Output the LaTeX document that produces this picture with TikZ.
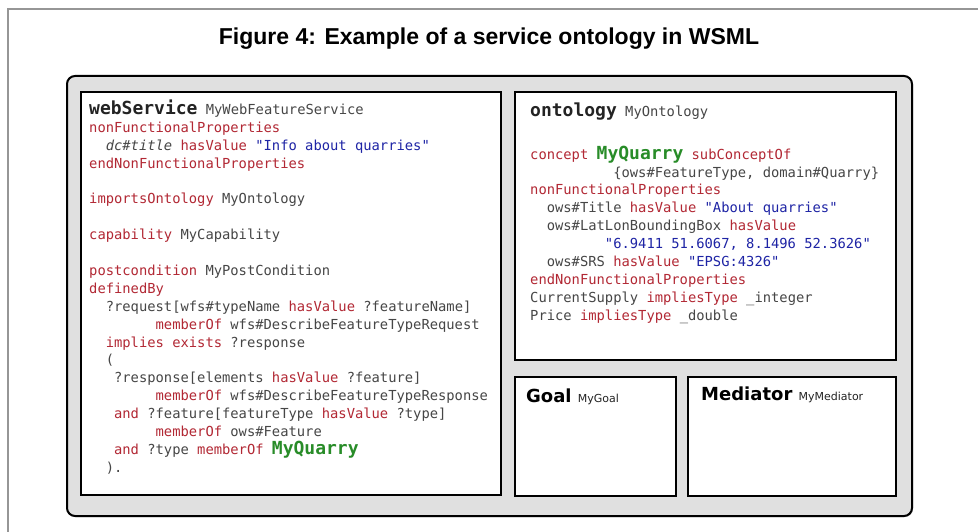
\documentclass[tikz,border=0pt]{standalone}
\usepackage{fontspec}
\setmainfont{DejaVu Sans}
\setsansfont{DejaVu Sans}
\setmonofont{DejaVu Sans Mono}
\newfontfamily\titlefont{Liberation Sans}
\usetikzlibrary{shadows}
\definecolor{framegray}{RGB}{150,150,150}
\definecolor{panelgray}{RGB}{224,224,224}
\definecolor{plain}{RGB}{70,70,70}
\definecolor{headc}{RGB}{35,35,35}
\definecolor{kwred}{RGB}{178,40,52}
\definecolor{valblue}{RGB}{30,36,165}
\definecolor{qgreen}{RGB}{40,140,40}
\tikzset{
  panel/.style={draw=black, line width=2pt, fill=panelgray, rounded corners=8pt,
                minimum width=845pt, minimum height=440pt, inner sep=0pt,
                drop shadow={shadow xshift=1pt, shadow yshift=-1pt, opacity=0.5}},
  box/.style={draw=black, line width=2pt, fill=white, inner sep=0pt,
              drop shadow={shadow xshift=1pt, shadow yshift=-1pt, opacity=0.4}},
  code/.style={anchor=north west, inner sep=0pt, align=left, text=plain,
               font=\fontsize{13.8}{17.9}\selectfont\ttfamily},
  head/.style={anchor=base west, inner sep=0pt, text=black,
               font=\sffamily\bfseries\fontsize{18}{20}\selectfont},
}
% WSML syntax colouring
\newcommand{\kw}[1]{{\color{kwred}#1}}
\newcommand{\val}[1]{{\color{valblue}#1}}
\newcommand{\hd}[1]{{\fontsize{18}{18}\selectfont\bfseries\color{headc}#1}}
\newcommand{\cname}[1]{{\fontsize{18}{18}\selectfont\bfseries\color{qgreen}#1}}
\newcommand{\ind}[1]{\hspace*{#1\fontcharwd\font`\x}}
\newcommand{\idname}[1]{{\mdseries\fontsize{11}{13}\selectfont\color{headc}#1}}

\begin{document}
\begin{tikzpicture}[x=1pt,y=-1pt]
\useasboundingbox (0,0) rectangle (978,532);

% page frame and caption
\draw[framegray, line width=1.5pt] (8,540) -- (8,9) -- (985,9);
\node[font=\titlefont\bfseries\fontsize{23}{27}\selectfont, anchor=base] (title) at (489,44.3)
  {Figure 4: Example of a service ontology in WSML};

% grey panel with the four blocks
\node[panel] (wsml) at (489.5,296) {};
\node[box, minimum width=420.5pt, minimum height=403pt] (ws)   at (290.75,293.5) {};
\node[box, minimum width=381pt, minimum height=268pt]   (onto) at (705.5,226) {};
\node[box, minimum width=161pt, minimum height=119pt]   (goal) at (595.5,436.5) {};
\node[box, minimum width=208pt, minimum height=119pt]   (med)  at (792,436.5) {};

% web service description
\node[code] (wstext) at (89,99.5) {%
\hd{webService} MyWebFeatureService\\
\kw{nonFunctionalProperties}\\
\ind{2}\textit{dc\#title} \kw{hasValue} \val{"Info about quarries"}\\
\kw{endNonFunctionalProperties}\\
~\\
\kw{importsOntology} MyOntology\\
~\\
\kw{capability} MyCapability\\
~\\
\kw{postcondition} MyPostCondition\\
\kw{definedBy}\\
\ind{2}?request[wfs\#typeName \kw{hasValue} ?featureName]\\
\ind{8}\kw{memberOf} wfs\#DescribeFeatureTypeRequest\\
\ind{2}\kw{implies exists} ?response\\
\ind{2}(\\
\ind{3}?response[elements \kw{hasValue} ?feature]\\
\ind{8}\kw{memberOf} wfs\#DescribeFeatureTypeResponse\\
\ind{3}\kw{and} ?feature[featureType \kw{hasValue} ?type]\\
\ind{8}\kw{memberOf} ows\#Feature\\
\ind{3}\kw{and} ?type \kw{memberOf} \cname{MyQuarry}\\
\ind{2}).};

% domain ontology
\node[code] (ontotext) at (530,103) {%
\hd{ontology} MyOntology\\[6.5pt]
~\\
\kw{concept} \cname{MyQuarry} \kw{subConceptOf}\\
\ind{10}\{ows\#FeatureType, domain\#Quarry\}\\
\kw{nonFunctionalProperties}\\
\ind{2}ows\#Title \kw{hasValue} \val{"About quarries"}\\
\ind{2}ows\#LatLonBoundingBox \kw{hasValue}\\
\ind{9}\val{"6.9411 51.6067, 8.1496 52.3626"}\\
\ind{2}ows\#SRS \kw{hasValue} \val{"EPSG:4326"}\\
\kw{endNonFunctionalProperties}\\
CurrentSupply \kw{impliesType} \_integer\\
Price \kw{impliesType} \_double};

% goal and mediator
\node[head] (goaltext) at (526,402.7) {Goal \idname{MyGoal}};
\node[head] (medtext)  at (701,400.7) {Mediator \idname{MyMediator}};

\end{tikzpicture}
\end{document}
